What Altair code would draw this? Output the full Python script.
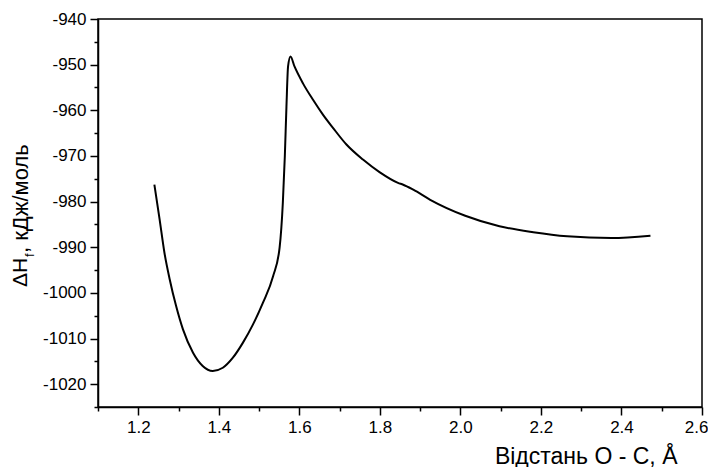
import altair as alt
import pandas as pd

# distance O-C (Å) and heat of formation (kJ/mol)
dist = [1.240, 1.253, 1.265, 1.278, 1.294, 1.311, 1.336, 1.360, 1.385, 1.410,
        1.435, 1.460, 1.485, 1.510, 1.535, 1.551, 1.559, 1.564, 1.568,
        1.572, 1.578, 1.588, 1.609, 1.634, 1.659, 1.684, 1.717, 1.758, 1.800,
        1.845, 1.858, 1.883, 1.925, 2.012, 2.097, 2.181, 2.265, 2.375, 2.472]
dh = [-976.3, -983.9, -991.2, -997.0, -1002.9, -1008.0, -1013.1, -1016.0, -1017.1, -1016.4,
      -1014.2, -1010.9, -1006.9, -1002.1, -996.3, -990.1, -980.3, -970.0, -959.2,
      -950.4, -948.2, -950.4, -954.1, -957.7, -961.0, -963.9, -967.5, -970.8, -973.6,
      -975.9, -976.3, -977.4, -979.6, -983.1, -985.4, -986.7, -987.6, -988.0, -987.5]

x_ticks = [round(1.1 + 0.1 * i, 1) for i in range(16)]
y_ticks = [-1025 + 5 * i for i in range(18)]

x_title = "Відстань О - С, Å"
y_title_parts = ["ΔH", "f", ", кДж/моль"]

FONT = "Liberation Sans"

df = pd.DataFrame({"d": dist, "h": dh})

line = alt.Chart(df).mark_line(color="black", strokeWidth=2, interpolate="monotone").encode(
    x=alt.X("d:Q", scale=alt.Scale(domain=[1.1, 2.6], nice=False, zero=False),
            axis=alt.Axis(values=x_ticks, title=x_title, labelFlush=True, labelFlushOffset=6,
                          labelExpr="(round(datum.value*10) % 2 == 0) ? format(datum.value, '.1f') : ''",
                          tickSize={"condition": {"test": "round(datum.value*10) % 2 != 0", "value": 4}, "value": 8},
                          titleX=579, titleY=56, titleAlign="right", titleBaseline="alphabetic",
                          titleFontSize=23, titleFontWeight="normal")),
    y=alt.Y("h:Q", scale=alt.Scale(domain=[-1025, -940], nice=False, zero=False),
            axis=alt.Axis(values=y_ticks, title=None, labelFlush=False,
                          labelExpr="(datum.value % 10 == 0) ? toString(datum.value) : ''",
                          tickSize={"condition": {"test": "datum.value % 10 != 0", "value": 4}, "value": 8})),
)

tdf = pd.DataFrame({"k": [0]})
t1 = alt.Chart(tdf).mark_text(text=y_title_parts[0], angle=270, align="left", baseline="middle",
                              font=FONT, fontSize=21, color="black").encode(
    x=alt.value(-77), y=alt.value(268))
t2 = alt.Chart(tdf).mark_text(text=y_title_parts[1], angle=270, align="left", baseline="middle",
                              font=FONT, fontSize=13, color="black").encode(
    x=alt.value(-68), y=alt.value(238))
t3 = alt.Chart(tdf).mark_text(text=y_title_parts[2], angle=270, align="left", baseline="middle",
                              font=FONT, fontSize=22, color="black").encode(
    x=alt.value(-77), y=alt.value(234))

chart = alt.layer(line, t1, t2, t3).properties(
    width=604, height=388,
    autosize=alt.AutoSizeParams(type="none"),
    padding={"left": 90, "top": 11, "right": 6, "bottom": 60},
).configure_view(
    stroke="black", strokeWidth=1.5
).configure_axis(
    domainColor="black", domainWidth=1.5, tickColor="black", tickWidth=1.5,
    grid=False, labelFont=FONT, labelFontSize=17, labelColor="black",
    titleFont=FONT, titleColor="black", labelPadding=4,
)

chart.save("out.html", embed_options={"renderer": "svg", "actions": False})
